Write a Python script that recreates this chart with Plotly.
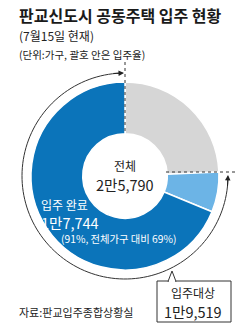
import numpy as np
import plotly.graph_objects as go

# ---- data ----
total_households = 25790      # 전체
target_households = 19519     # 입주대상
moved_in = 17744              # 입주 완료
segment_labels = ["입주대상 외", "입주 미완료", "입주 완료"]
segment_values = [total_households - target_households,
                  target_households - moved_in,
                  moved_in]
segment_colors = ["#d6d6d6", "#6cb4e6", "#0b74ba"]

FONT = "Noto Sans CJK KR"
W, H = 250, 328
cx, cy = 125, 176

fig = go.Figure()
# dummy trace so pixel-like cartesian axes exist for shapes/annotations
fig.add_trace(go.Scatter(x=[None], y=[None], showlegend=False, hoverinfo="skip"))

fig.add_trace(go.Pie(
    labels=segment_labels, values=segment_values, sort=False,
    direction="clockwise", rotation=0, hole=0.45,
    marker=dict(colors=segment_colors, line=dict(color="white", width=1.5)),
    textinfo="none", showlegend=False,
    domain=dict(x=[(cx - 94) / W, (cx + 94) / W],
                y=[1 - (cy + 94) / H, 1 - (cy - 94) / H]),
))

shapes = []
# dotted boundary lines
shapes.append(dict(type="line", xref="x", yref="y", x0=125, x1=125, y0=62, y1=134,
                   line=dict(color="#333", width=1, dash="dot")))
shapes.append(dict(type="line", xref="x", yref="y", x0=166, x1=236, y0=172, y1=172,
                   line=dict(color="#333", width=1, dash="dot")))

# outer arc around 입주대상 portion
r = 103
th = np.radians(np.linspace(358.5, 92.5, 120))
px = cx + r * np.cos(th)
py = cy - r * np.sin(th)
path = "M " + " L ".join(f"{a:.2f},{b:.2f}" for a, b in zip(px, py))
shapes.append(dict(type="path", xref="x", yref="y", path=path,
                   line=dict(color="#333", width=1)))

# callout box
shapes.append(dict(type="rect", xref="x", yref="y", x0=157, x1=231, y0=281, y1=322,
                   line=dict(color="#333", width=1), fillcolor="white"))
shapes.append(dict(type="path", xref="x", yref="y",
                   path="M 168,281.5 L 172,271 L 176,281.5 Z",
                   line=dict(color="#333", width=1), fillcolor="white"))
shapes.append(dict(type="line", xref="x", yref="y", x0=168.7, x1=175.3, y0=281.5, y1=281.5,
                   line=dict(color="white", width=1.5)))

annotations = []
# arrowheads
annotations.append(dict(x=124, y=cy - r * 0.9999, ax=112, ay=73.5, xref="x", yref="y",
                        axref="x", ayref="y", text="", showarrow=True, arrowhead=2,
                        arrowsize=1.1, arrowwidth=1, arrowcolor="#222", standoff=0))
annotations.append(dict(x=cx + r, y=175, ax=cx + r - 0.6, ay=188, xref="x", yref="y",
                        axref="x", ayref="y", text="", showarrow=True, arrowhead=2,
                        arrowsize=1.1, arrowwidth=1, arrowcolor="#222", standoff=0))

def txt(x, y, s, size, color="#222", anchor="left", bold=False):
    annotations.append(dict(x=x, y=y, xref="x", yref="y", text=f"<b>{s}</b>" if bold else s,
                            showarrow=False, xanchor=anchor, yanchor="middle",
                            font=dict(family=FONT, size=size, color=color)))

txt(17, 15, "판교신도시 공동주택 입주 현황", 16, "#1a1a1a", bold=True)
txt(17, 35, "(7월15일 현재)", 12)
txt(17, 54, "(단위:가구, 괄호 안은 입주율)", 10.5)

txt(125, 165, "전체", 12, anchor="center")
txt(125, 184, "2만5,790", 14.5, anchor="center")

txt(39, 204, "입주 완료", 12, "white")
txt(39, 222, "1만7,744", 14.5, "white")
txt(59, 238, "(91%, 전체가구 대비 69%)", 10.3, "white")

txt(193, 292, "입주대상", 12, anchor="center")
txt(193, 311, "1만9,519", 14.5, anchor="center")

txt(17, 312, "자료:판교입주종합상황실", 11)

fig.update_layout(
    width=W, height=H, margin=dict(l=0, r=0, t=0, b=0),
    paper_bgcolor="white", plot_bgcolor="rgba(0,0,0,0)",
    xaxis=dict(range=[0, W], visible=False, fixedrange=True),
    yaxis=dict(range=[H, 0], visible=False, fixedrange=True),
    shapes=shapes, annotations=annotations, showlegend=False,
)

fig.write_html("out.html")
